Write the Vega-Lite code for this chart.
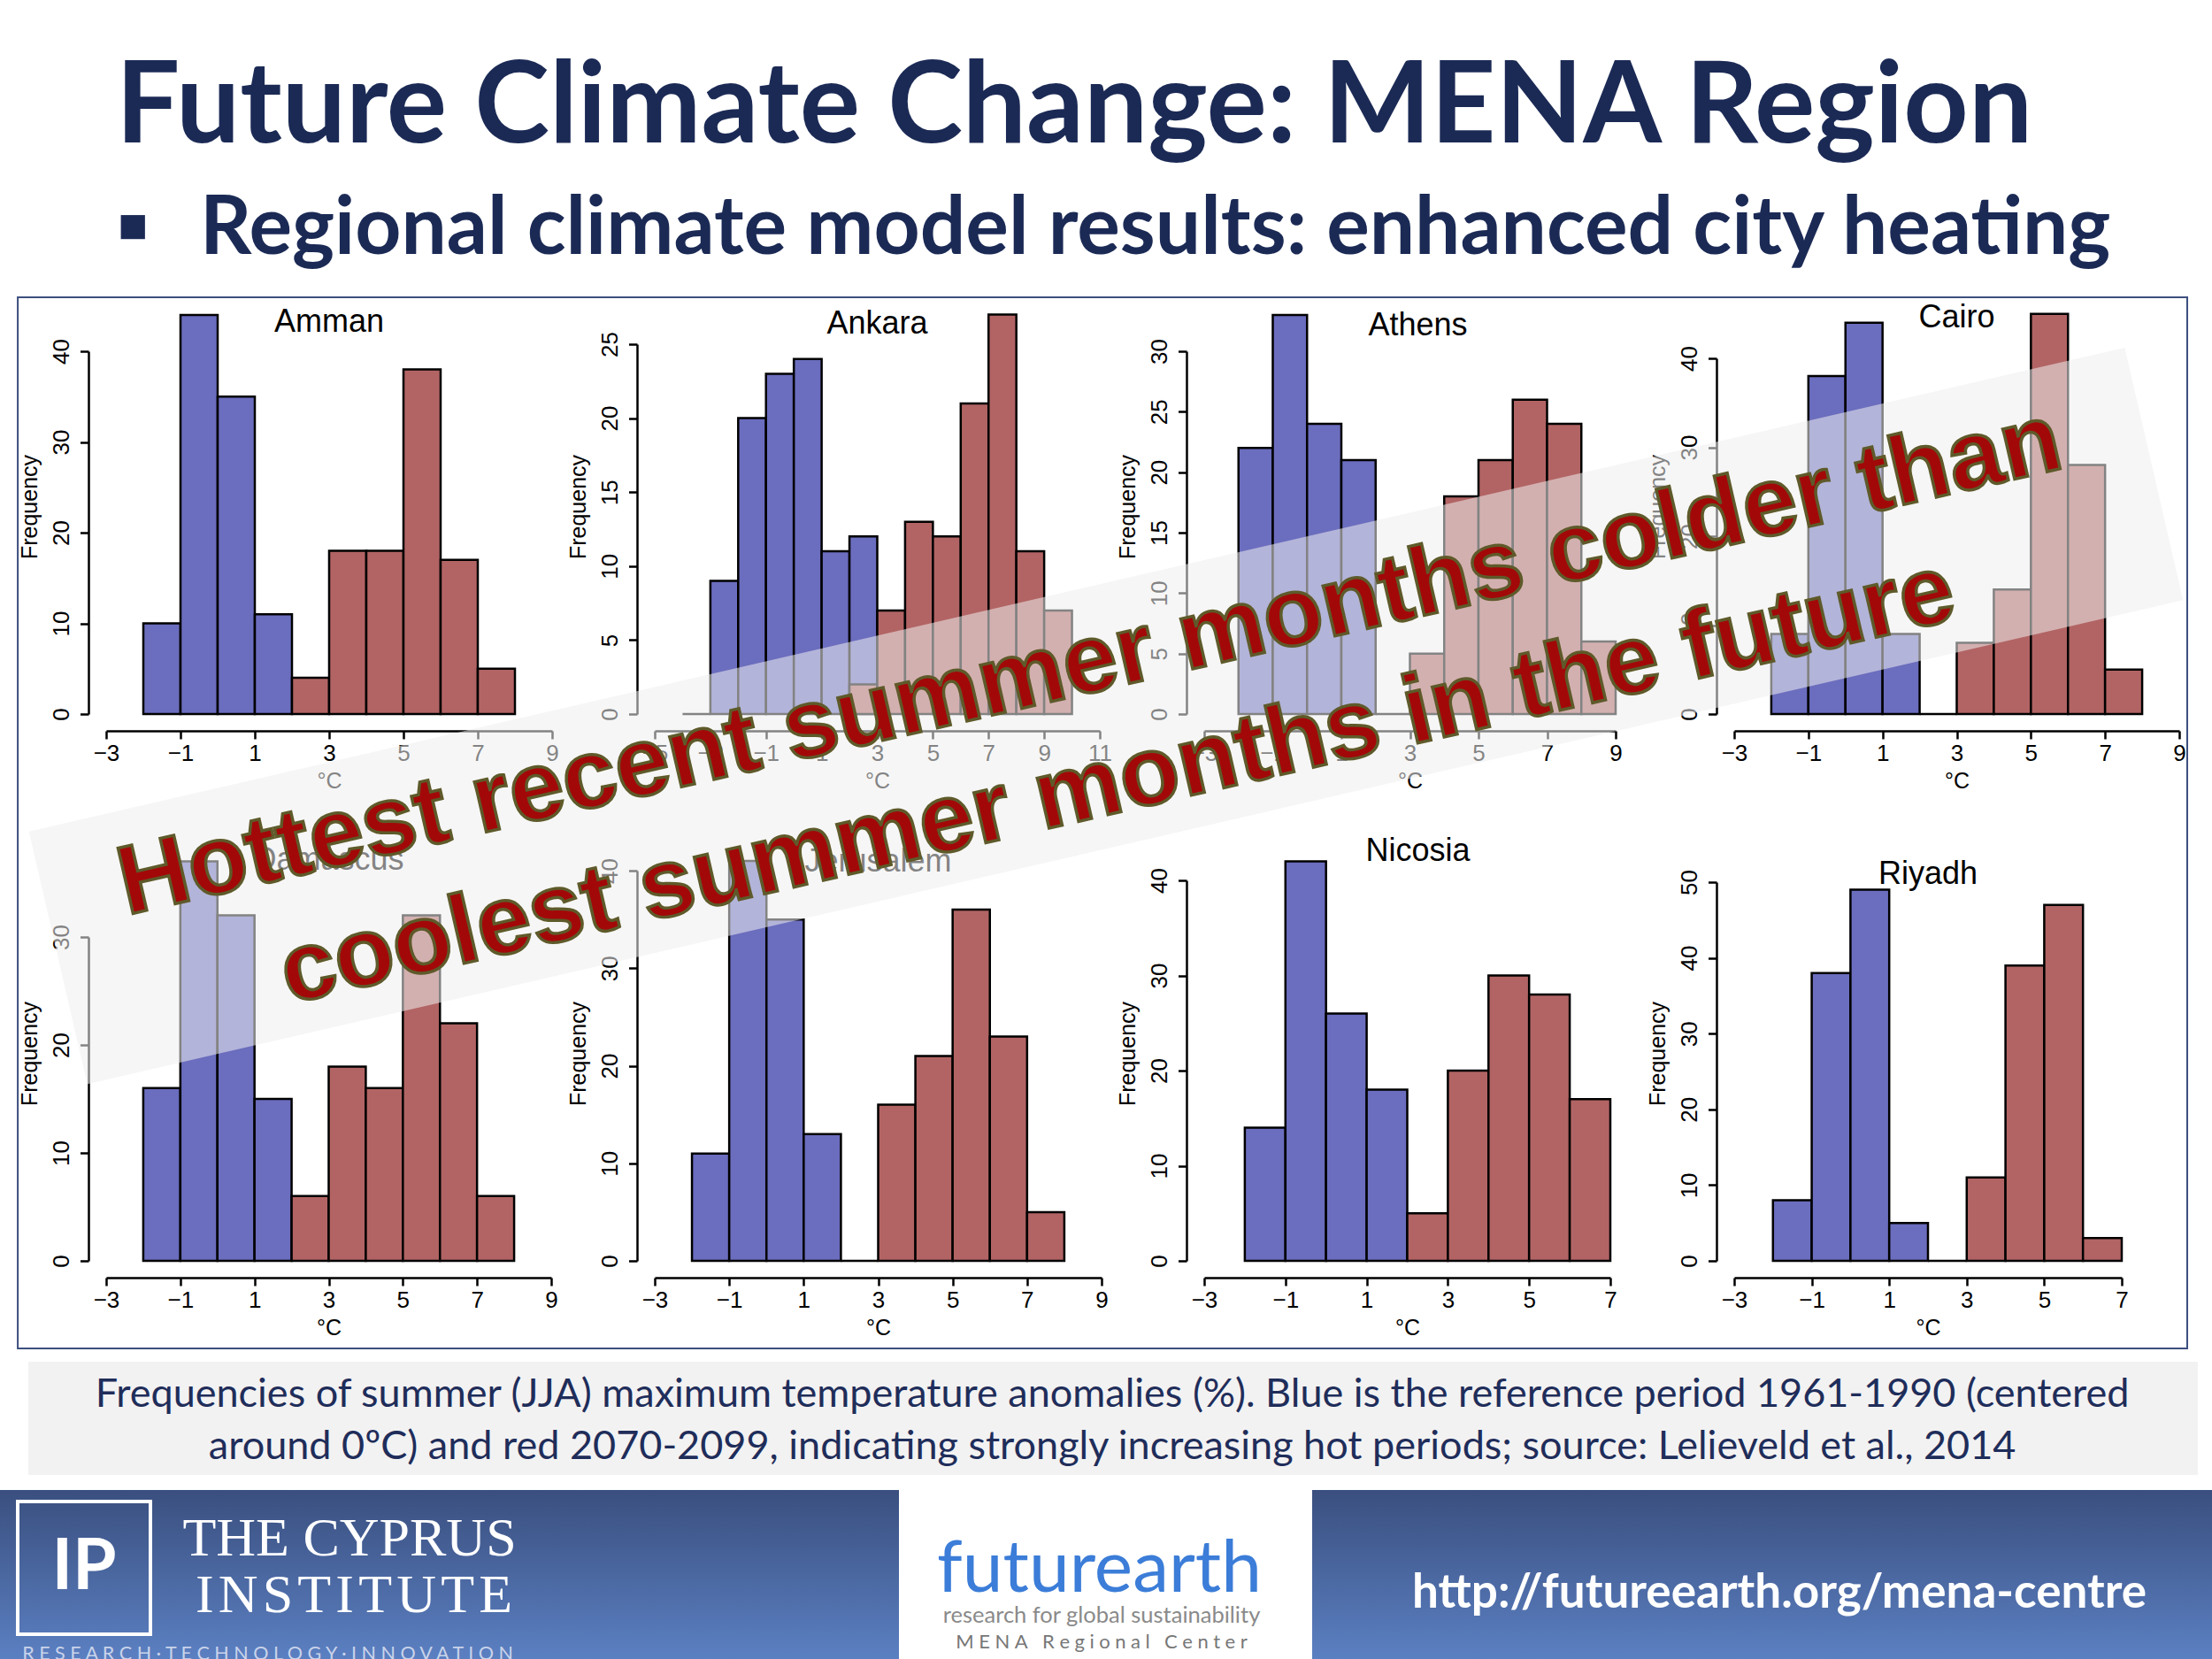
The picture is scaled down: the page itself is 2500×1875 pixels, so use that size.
{
  "$schema": "https://vega.github.io/schema/vega-lite/v6.json",
  "background": "white",
  "padding": {"top": 58, "left": 0, "right": 0, "bottom": 0},
  "title": {
    "text": "Future Climate Change: MENA Region",
    "subtitle": "▪\u2002\u2009Regional climate model results: enhanced city heating",
    "anchor": "start", "frame": "bounds", "baseline": "top", "dx": 131, "offset": 29,
    "font": "Lato", "fontSize": 128, "fontWeight": "bold", "color": "#1b2a55",
    "subtitleFont": "Lato", "subtitleFontSize": 91, "subtitleFontWeight": "bold", "subtitleColor": "#1b2a55", "subtitlePadding": 27
  },
  "config": {
    "view": {"stroke": null},
    "font": "Liberation Sans",
    "axis": {"grid": false, "domainColor": "black", "domainWidth": 2.5, "tickColor": "black", "tickWidth": 2.5, "labelColor": "black", "titleColor": "black", "labelFont": "Liberation Sans", "titleFont": "Liberation Sans", "labelFontSize": 26, "titleFontSize": 25, "titleFontWeight": "normal", "labelFlush": false, "labelOverlap": false, "labelBound": false},
    "axisX": {"offset": 19, "tickSize": 9, "labelPadding": 3, "titlePadding": 6, "labelAngle": 0},
    "axisY": {"offset": 20, "tickSize": 9.5, "labelAngle": -90, "labelAlign": "center", "labelBaseline": "alphabetic", "labelPadding": 13, "titleAngle": -90, "titleBaseline": "bottom", "titleLineHeight": 21, "titlePadding": 10, "titleY": 234.5}
  },
  "data": {"values": [
    {"city": "Amman", "period": "1961-1990", "bin_start": -2, "bin_end": -1, "count": 10},
    {"city": "Amman", "period": "1961-1990", "bin_start": -1, "bin_end": 0, "count": 44},
    {"city": "Amman", "period": "1961-1990", "bin_start": 0, "bin_end": 1, "count": 35},
    {"city": "Amman", "period": "1961-1990", "bin_start": 1, "bin_end": 2, "count": 11},
    {"city": "Amman", "period": "2070-2099", "bin_start": 2, "bin_end": 3, "count": 4},
    {"city": "Amman", "period": "2070-2099", "bin_start": 3, "bin_end": 4, "count": 18},
    {"city": "Amman", "period": "2070-2099", "bin_start": 4, "bin_end": 5, "count": 18},
    {"city": "Amman", "period": "2070-2099", "bin_start": 5, "bin_end": 6, "count": 38},
    {"city": "Amman", "period": "2070-2099", "bin_start": 6, "bin_end": 7, "count": 17},
    {"city": "Amman", "period": "2070-2099", "bin_start": 7, "bin_end": 8, "count": 5},
    {"city": "Ankara", "period": "1961-1990", "bin_start": -4, "bin_end": -3, "count": 0},
    {"city": "Ankara", "period": "1961-1990", "bin_start": -3, "bin_end": -2, "count": 9},
    {"city": "Ankara", "period": "1961-1990", "bin_start": -2, "bin_end": -1, "count": 20},
    {"city": "Ankara", "period": "1961-1990", "bin_start": -1, "bin_end": 0, "count": 23},
    {"city": "Ankara", "period": "1961-1990", "bin_start": 0, "bin_end": 1, "count": 24},
    {"city": "Ankara", "period": "1961-1990", "bin_start": 1, "bin_end": 2, "count": 11},
    {"city": "Ankara", "period": "1961-1990", "bin_start": 2, "bin_end": 3, "count": 12},
    {"city": "Ankara", "period": "2070-2099", "bin_start": 2, "bin_end": 3, "count": 2},
    {"city": "Ankara", "period": "2070-2099", "bin_start": 3, "bin_end": 4, "count": 7},
    {"city": "Ankara", "period": "2070-2099", "bin_start": 4, "bin_end": 5, "count": 13},
    {"city": "Ankara", "period": "2070-2099", "bin_start": 5, "bin_end": 6, "count": 12},
    {"city": "Ankara", "period": "2070-2099", "bin_start": 6, "bin_end": 7, "count": 21},
    {"city": "Ankara", "period": "2070-2099", "bin_start": 7, "bin_end": 8, "count": 27},
    {"city": "Ankara", "period": "2070-2099", "bin_start": 8, "bin_end": 9, "count": 11},
    {"city": "Ankara", "period": "2070-2099", "bin_start": 9, "bin_end": 10, "count": 7},
    {"city": "Athens", "period": "1961-1990", "bin_start": -2, "bin_end": -1, "count": 22},
    {"city": "Athens", "period": "1961-1990", "bin_start": -1, "bin_end": 0, "count": 33},
    {"city": "Athens", "period": "1961-1990", "bin_start": 0, "bin_end": 1, "count": 24},
    {"city": "Athens", "period": "1961-1990", "bin_start": 1, "bin_end": 2, "count": 21},
    {"city": "Athens", "period": "2070-2099", "bin_start": 2, "bin_end": 3, "count": 0},
    {"city": "Athens", "period": "2070-2099", "bin_start": 3, "bin_end": 4, "count": 5},
    {"city": "Athens", "period": "2070-2099", "bin_start": 4, "bin_end": 5, "count": 18},
    {"city": "Athens", "period": "2070-2099", "bin_start": 5, "bin_end": 6, "count": 21},
    {"city": "Athens", "period": "2070-2099", "bin_start": 6, "bin_end": 7, "count": 26},
    {"city": "Athens", "period": "2070-2099", "bin_start": 7, "bin_end": 8, "count": 24},
    {"city": "Athens", "period": "2070-2099", "bin_start": 8, "bin_end": 9, "count": 6},
    {"city": "Cairo", "period": "1961-1990", "bin_start": -2, "bin_end": -1, "count": 9},
    {"city": "Cairo", "period": "1961-1990", "bin_start": -1, "bin_end": 0, "count": 38},
    {"city": "Cairo", "period": "1961-1990", "bin_start": 0, "bin_end": 1, "count": 44},
    {"city": "Cairo", "period": "1961-1990", "bin_start": 1, "bin_end": 2, "count": 9},
    {"city": "Cairo", "period": "2070-2099", "bin_start": 2, "bin_end": 3, "count": 0},
    {"city": "Cairo", "period": "2070-2099", "bin_start": 3, "bin_end": 4, "count": 8},
    {"city": "Cairo", "period": "2070-2099", "bin_start": 4, "bin_end": 5, "count": 14},
    {"city": "Cairo", "period": "2070-2099", "bin_start": 5, "bin_end": 6, "count": 45},
    {"city": "Cairo", "period": "2070-2099", "bin_start": 6, "bin_end": 7, "count": 28},
    {"city": "Cairo", "period": "2070-2099", "bin_start": 7, "bin_end": 8, "count": 5},
    {"city": "Damascus", "period": "1961-1990", "bin_start": -2, "bin_end": -1, "count": 16},
    {"city": "Damascus", "period": "1961-1990", "bin_start": -1, "bin_end": 0, "count": 37},
    {"city": "Damascus", "period": "1961-1990", "bin_start": 0, "bin_end": 1, "count": 32},
    {"city": "Damascus", "period": "1961-1990", "bin_start": 1, "bin_end": 2, "count": 15},
    {"city": "Damascus", "period": "2070-2099", "bin_start": 2, "bin_end": 3, "count": 6},
    {"city": "Damascus", "period": "2070-2099", "bin_start": 3, "bin_end": 4, "count": 18},
    {"city": "Damascus", "period": "2070-2099", "bin_start": 4, "bin_end": 5, "count": 16},
    {"city": "Damascus", "period": "2070-2099", "bin_start": 5, "bin_end": 6, "count": 32},
    {"city": "Damascus", "period": "2070-2099", "bin_start": 6, "bin_end": 7, "count": 22},
    {"city": "Damascus", "period": "2070-2099", "bin_start": 7, "bin_end": 8, "count": 6},
    {"city": "Jerusalem", "period": "1961-1990", "bin_start": -2, "bin_end": -1, "count": 11},
    {"city": "Jerusalem", "period": "1961-1990", "bin_start": -1, "bin_end": 0, "count": 41},
    {"city": "Jerusalem", "period": "1961-1990", "bin_start": 0, "bin_end": 1, "count": 35},
    {"city": "Jerusalem", "period": "1961-1990", "bin_start": 1, "bin_end": 2, "count": 13},
    {"city": "Jerusalem", "period": "2070-2099", "bin_start": 2, "bin_end": 3, "count": 0},
    {"city": "Jerusalem", "period": "2070-2099", "bin_start": 3, "bin_end": 4, "count": 16},
    {"city": "Jerusalem", "period": "2070-2099", "bin_start": 4, "bin_end": 5, "count": 21},
    {"city": "Jerusalem", "period": "2070-2099", "bin_start": 5, "bin_end": 6, "count": 36},
    {"city": "Jerusalem", "period": "2070-2099", "bin_start": 6, "bin_end": 7, "count": 23},
    {"city": "Jerusalem", "period": "2070-2099", "bin_start": 7, "bin_end": 8, "count": 5},
    {"city": "Nicosia", "period": "1961-1990", "bin_start": -2, "bin_end": -1, "count": 14},
    {"city": "Nicosia", "period": "1961-1990", "bin_start": -1, "bin_end": 0, "count": 42},
    {"city": "Nicosia", "period": "1961-1990", "bin_start": 0, "bin_end": 1, "count": 26},
    {"city": "Nicosia", "period": "1961-1990", "bin_start": 1, "bin_end": 2, "count": 18},
    {"city": "Nicosia", "period": "2070-2099", "bin_start": 2, "bin_end": 3, "count": 5},
    {"city": "Nicosia", "period": "2070-2099", "bin_start": 3, "bin_end": 4, "count": 20},
    {"city": "Nicosia", "period": "2070-2099", "bin_start": 4, "bin_end": 5, "count": 30},
    {"city": "Nicosia", "period": "2070-2099", "bin_start": 5, "bin_end": 6, "count": 28},
    {"city": "Nicosia", "period": "2070-2099", "bin_start": 6, "bin_end": 7, "count": 17},
    {"city": "Riyadh", "period": "1961-1990", "bin_start": -2, "bin_end": -1, "count": 8},
    {"city": "Riyadh", "period": "1961-1990", "bin_start": -1, "bin_end": 0, "count": 38},
    {"city": "Riyadh", "period": "1961-1990", "bin_start": 0, "bin_end": 1, "count": 49},
    {"city": "Riyadh", "period": "1961-1990", "bin_start": 1, "bin_end": 2, "count": 5},
    {"city": "Riyadh", "period": "2070-2099", "bin_start": 2, "bin_end": 3, "count": 0},
    {"city": "Riyadh", "period": "2070-2099", "bin_start": 3, "bin_end": 4, "count": 11},
    {"city": "Riyadh", "period": "2070-2099", "bin_start": 4, "bin_end": 5, "count": 39},
    {"city": "Riyadh", "period": "2070-2099", "bin_start": 5, "bin_end": 6, "count": 47},
    {"city": "Riyadh", "period": "2070-2099", "bin_start": 6, "bin_end": 7, "count": 3}
  ]},
  "spacing": 13,
  "center": true,
  "vconcat": [
    {
      "columns": 4, "bounds": "flush", "align": "each", "spacing": {"row": 149, "column": 116},
      "concat": [
        {
          "width": 504, "height": 469,
          "title": {"text": "Amman", "offset": -73, "baseline": "alphabetic", "frame": "group", "anchor": "middle", "font": "Liberation Sans", "fontSize": 36, "fontWeight": "normal", "color": "black"},
          "transform": [{"filter": "datum.city === 'Amman'"}],
          "mark": {"type": "rect", "stroke": "black", "strokeWidth": 2.5},
          "encoding": {
            "x": {"field": "bin_start", "type": "quantitative", "scale": {"domain": [-3, 9], "nice": false, "zero": false}, "axis": {"values": [-3, -1, 1, 3, 5, 7, 9], "title": "°C"}},
            "x2": {"field": "bin_end"},
            "y": {"field": "count", "type": "quantitative", "scale": {"domain": [0, 40], "range": [469, 59], "nice": false}, "axis": {"values": [0, 10, 20, 30, 40], "title": ["", "Frequency"]}},
            "y2": {"datum": 0},
            "color": {"field": "period", "type": "nominal", "scale": {"domain": ["1961-1990", "2070-2099"], "range": ["#6b6dbe", "#b26464"]}, "legend": null}
          }
        },
        {
          "width": 503, "height": 469,
          "title": {"text": "Ankara", "offset": -75, "baseline": "alphabetic", "frame": "group", "anchor": "middle", "font": "Liberation Sans", "fontSize": 36, "fontWeight": "normal", "color": "black"},
          "transform": [{"filter": "datum.city === 'Ankara'"}],
          "mark": {"type": "rect", "stroke": "black", "strokeWidth": 2.5},
          "encoding": {
            "x": {"field": "bin_start", "type": "quantitative", "scale": {"domain": [-5, 11], "nice": false, "zero": false}, "axis": {"values": [-5, -3, -1, 1, 3, 5, 7, 9, 11], "title": "°C"}},
            "x2": {"field": "bin_end"},
            "y": {"field": "count", "type": "quantitative", "scale": {"domain": [0, 25], "range": [469, 51], "nice": false}, "axis": {"values": [0, 5, 10, 15, 20, 25], "title": ["", "Frequency"]}},
            "y2": {"datum": 0},
            "color": {"field": "period", "type": "nominal", "scale": {"domain": ["1961-1990", "2070-2099"], "range": ["#6b6dbe", "#b26464"]}, "legend": null}
          }
        },
        {
          "width": 483, "height": 469,
          "title": {"text": "Athens", "offset": -77, "baseline": "alphabetic", "frame": "group", "anchor": "middle", "font": "Liberation Sans", "fontSize": 36, "fontWeight": "normal", "color": "black"},
          "transform": [{"filter": "datum.city === 'Athens'"}],
          "mark": {"type": "rect", "stroke": "black", "strokeWidth": 2.5},
          "encoding": {
            "x": {"field": "bin_start", "type": "quantitative", "scale": {"domain": [-3, 9], "range": [0, 465], "nice": false, "zero": false}, "axis": {"values": [-3, -1, 1, 3, 5, 7, 9], "title": "°C"}},
            "x2": {"field": "bin_end"},
            "y": {"field": "count", "type": "quantitative", "scale": {"domain": [0, 30], "range": [469, 59], "nice": false}, "axis": {"values": [0, 5, 10, 15, 20, 25, 30], "title": ["", "Frequency"]}},
            "y2": {"datum": 0},
            "color": {"field": "period", "type": "nominal", "scale": {"domain": ["1961-1990", "2070-2099"], "range": ["#6b6dbe", "#b26464"]}, "legend": null}
          }
        },
        {
          "width": 503, "height": 469,
          "title": {"text": "Cairo", "offset": -68, "baseline": "alphabetic", "frame": "group", "anchor": "middle", "font": "Liberation Sans", "fontSize": 36, "fontWeight": "normal", "color": "black"},
          "transform": [{"filter": "datum.city === 'Cairo'"}],
          "mark": {"type": "rect", "stroke": "black", "strokeWidth": 2.5},
          "encoding": {
            "x": {"field": "bin_start", "type": "quantitative", "scale": {"domain": [-3, 9], "nice": false, "zero": false}, "axis": {"values": [-3, -1, 1, 3, 5, 7, 9], "title": "°C"}},
            "x2": {"field": "bin_end"},
            "y": {"field": "count", "type": "quantitative", "scale": {"domain": [0, 40], "range": [469, 67], "nice": false}, "axis": {"values": [0, 10, 20, 30, 40], "title": ["", "Frequency"]}},
            "y2": {"datum": 0},
            "color": {"field": "period", "type": "nominal", "scale": {"domain": ["1961-1990", "2070-2099"], "range": ["#6b6dbe", "#b26464"]}, "legend": null}
          }
        },
        {
          "width": 503, "height": 469,
          "title": {"text": "Damascus", "offset": -63, "baseline": "alphabetic", "frame": "group", "anchor": "middle", "font": "Liberation Sans", "fontSize": 36, "fontWeight": "normal", "color": "black"},
          "transform": [{"filter": "datum.city === 'Damascus'"}],
          "mark": {"type": "rect", "stroke": "black", "strokeWidth": 2.5},
          "encoding": {
            "x": {"field": "bin_start", "type": "quantitative", "scale": {"domain": [-3, 9], "nice": false, "zero": false}, "axis": {"values": [-3, -1, 1, 3, 5, 7, 9], "title": "°C"}},
            "x2": {"field": "bin_end"},
            "y": {"field": "count", "type": "quantitative", "scale": {"domain": [0, 30], "range": [469, 103], "nice": false}, "axis": {"values": [0, 10, 20, 30], "title": ["", "Frequency"]}},
            "y2": {"datum": 0},
            "color": {"field": "period", "type": "nominal", "scale": {"domain": ["1961-1990", "2070-2099"], "range": ["#6b6dbe", "#b26464"]}, "legend": null}
          }
        },
        {
          "width": 505, "height": 469,
          "title": {"text": "Jerusalem", "offset": -65, "baseline": "alphabetic", "frame": "group", "anchor": "middle", "font": "Liberation Sans", "fontSize": 36, "fontWeight": "normal", "color": "black"},
          "transform": [{"filter": "datum.city === 'Jerusalem'"}],
          "mark": {"type": "rect", "stroke": "black", "strokeWidth": 2.5},
          "encoding": {
            "x": {"field": "bin_start", "type": "quantitative", "scale": {"domain": [-3, 9], "nice": false, "zero": false}, "axis": {"values": [-3, -1, 1, 3, 5, 7, 9], "title": "°C"}},
            "x2": {"field": "bin_end"},
            "y": {"field": "count", "type": "quantitative", "scale": {"domain": [0, 40], "range": [469, 28], "nice": false}, "axis": {"values": [0, 10, 20, 30, 40], "title": ["", "Frequency"]}},
            "y2": {"datum": 0},
            "color": {"field": "period", "type": "nominal", "scale": {"domain": ["1961-1990", "2070-2099"], "range": ["#6b6dbe", "#b26464"]}, "legend": null}
          }
        },
        {
          "width": 483, "height": 469,
          "title": {"text": "Nicosia", "offset": -53, "baseline": "alphabetic", "frame": "group", "anchor": "middle", "font": "Liberation Sans", "fontSize": 36, "fontWeight": "normal", "color": "black"},
          "transform": [{"filter": "datum.city === 'Nicosia'"}],
          "mark": {"type": "rect", "stroke": "black", "strokeWidth": 2.5},
          "encoding": {
            "x": {"field": "bin_start", "type": "quantitative", "scale": {"domain": [-3, 7], "range": [0, 459], "nice": false, "zero": false}, "axis": {"values": [-3, -1, 1, 3, 5, 7], "title": "°C"}},
            "x2": {"field": "bin_end"},
            "y": {"field": "count", "type": "quantitative", "scale": {"domain": [0, 40], "range": [469, 39], "nice": false}, "axis": {"values": [0, 10, 20, 30, 40], "title": ["", "Frequency"]}},
            "y2": {"datum": 0},
            "color": {"field": "period", "type": "nominal", "scale": {"domain": ["1961-1990", "2070-2099"], "range": ["#6b6dbe", "#b26464"]}, "legend": null}
          }
        },
        {
          "width": 438, "height": 469,
          "title": {"text": "Riyadh", "offset": -700, "baseline": "alphabetic", "frame": "group", "anchor": "middle", "font": "Liberation Sans", "fontSize": 36, "fontWeight": "normal", "color": "black"},
          "layer": [
            {
              "transform": [{"filter": "datum.city === 'Riyadh'"}],
              "mark": {"type": "rect", "stroke": "black", "strokeWidth": 2.5},
              "encoding": {
                "x": {"field": "bin_start", "type": "quantitative", "scale": {"domain": [-3, 7], "nice": false, "zero": false}, "axis": {"values": [-3, -1, 1, 3, 5, 7], "title": "°C"}},
                "x2": {"field": "bin_end"},
                "y": {"field": "count", "type": "quantitative", "scale": {"domain": [0, 50], "range": [469, 41], "nice": false}, "axis": {"values": [0, 10, 20, 30, 40, 50], "title": ["", "Frequency"]}},
                "y2": {"datum": 0},
                "color": {"field": "period", "type": "nominal", "scale": {"domain": ["1961-1990", "2070-2099"], "range": ["#6b6dbe", "#b26464"]}, "legend": null}
              }
            },
            {
              "data": {"values": [{"note": "panel frame"}]},
              "mark": {"type": "rect", "fill": "white", "fillOpacity": 0, "stroke": "#3d4f7f", "strokeWidth": 2},
              "encoding": {
                "x": {"datum": -47.29, "type": "quantitative"},
                "x2": {"datum": 8.69},
                "y": {"datum": 127.22, "type": "quantitative"},
                "y2": {"datum": -11.57}
              }
            },
            {
              "data": {"values": [{"note": "overlay band"}]},
              "mark": {"type": "point", "shape": "M-1,-0.1205L1,-0.1205L1,0.1205L-1,0.1205Z", "size": 5909761, "angle": -13, "filled": true, "color": "#eeeeee", "opacity": 0.55, "strokeWidth": 0},
              "encoding": {
                "x": {"datum": -19.21, "type": "quantitative"},
                "y": {"datum": 71.96, "type": "quantitative"}
              }
            },
            {
              "data": {"values": [{"msg": "Hottest recent summer months colder than\ncoolest summer months in the future"}]},
              "mark": {"type": "text", "angle": -13, "font": "Liberation Sans", "fontWeight": "bold", "fontSize": 110, "color": "#a30808", "stroke": "#5e5a2a", "strokeWidth": 3.5, "align": "center", "baseline": "alphabetic", "lineBreak": "\n", "lineHeight": 139},
              "encoding": {
                "text": {"field": "msg", "type": "nominal"},
                "x": {"datum": -19.46, "type": "quantitative"},
                "y": {"datum": 75.23, "type": "quantitative"}
              }
            }
          ]
        }
      ]
    },
    {
      "spacing": 17,
      "vconcat": [
        {
          "width": 2593, "height": 128,
          "layer": [
            {
              "data": {"values": [{"box": "caption"}]},
              "mark": {"type": "rect", "color": "#f2f2f2", "strokeWidth": 0},
              "encoding": {
                "x": {"datum": 1.234, "type": "quantitative", "scale": {"domain": [0, 100], "nice": false, "zero": false}, "axis": null},
                "x2": {"datum": 95.80},
                "y": {"datum": 0, "type": "quantitative", "scale": {"domain": [0, 100], "reverse": true, "nice": false, "zero": false}, "axis": null},
                "y2": {"datum": 100}
              }
            },
            {
              "data": {"values": [{"text": "Frequencies of summer (JJA) maximum temperature anomalies (%). Blue is the reference period 1961-1990 (centered"}]},
              "mark": {"type": "text", "font": "Lato", "fontSize": 45, "color": "#1f2d5a", "baseline": "middle", "align": "center"},
              "encoding": {
                "text": {"field": "text", "type": "nominal"},
                "x": {"datum": 48.48, "type": "quantitative", "axis": null},
                "y": {"datum": 28.9, "type": "quantitative", "axis": null}
              }
            },
            {
              "data": {"values": [{"text": "around 0ºC) and red 2070-2099, indicating strongly increasing hot periods; source: Lelieveld et al., 2014"}]},
              "mark": {"type": "text", "font": "Lato", "fontSize": 45, "color": "#1f2d5a", "baseline": "middle", "align": "center"},
              "encoding": {
                "text": {"field": "text", "type": "nominal"},
                "x": {"datum": 48.48, "type": "quantitative", "axis": null},
                "y": {"datum": 75, "type": "quantitative", "axis": null}
              }
            }
          ]
        },
        {
          "width": 2500, "height": 192,
          "view": {"stroke": null, "fill": {"gradient": "linear", "x1": 0, "y1": 0, "x2": 0, "y2": 1, "stops": [{"offset": 0, "color": "#3a4f7f"}, {"offset": 1, "color": "#5b80c2"}]}},
          "layer": [
            {
              "data": {"values": [{"block": "futurearth"}]},
              "mark": {"type": "rect", "color": "white", "strokeWidth": 0},
              "encoding": {
                "x": {"datum": 40.64, "type": "quantitative", "scale": {"domain": [0, 100], "nice": false, "zero": false}, "axis": null},
                "x2": {"datum": 59.32},
                "y": {"datum": 0, "type": "quantitative", "scale": {"domain": [0, 100], "reverse": true, "nice": false, "zero": false}, "axis": null},
                "y2": {"datum": 100}
              }
            },
            {
              "data": {"values": [{"block": "logo"}]},
              "mark": {"type": "point", "shape": "square", "size": 22500, "filled": false, "stroke": "white", "strokeWidth": 4, "opacity": 1},
              "encoding": {
                "x": {"datum": 3.8, "type": "quantitative", "axis": null},
                "y": {"datum": 45.8, "type": "quantitative", "axis": null}
              }
            },
            {
              "data": {"values": [{"t": "IP"}]},
              "mark": {"type": "text", "font": "Lato", "fontWeight": "bold", "fontSize": 80, "color": "white", "baseline": "middle", "align": "center"},
              "encoding": {
                "text": {"field": "t", "type": "nominal"},
                "x": {"datum": 3.8, "type": "quantitative", "axis": null},
                "y": {"datum": 45.8, "type": "quantitative", "axis": null}
              }
            },
            {
              "data": {"values": [{"t": "THE CYPRUS"}]},
              "mark": {"type": "text", "font": "Liberation Serif", "fontSize": 62, "color": "white", "baseline": "middle", "align": "center"},
              "encoding": {
                "text": {"field": "t", "type": "nominal"},
                "x": {"datum": 15.8, "type": "quantitative", "axis": null},
                "y": {"datum": 28.6, "type": "quantitative", "axis": null}
              }
            },
            {
              "data": {"values": [{"t": "I\u200aN\u200aS\u200aT\u200aI\u200aT\u200aU\u200aT\u200aE"}]},
              "mark": {"type": "text", "font": "Liberation Serif", "fontSize": 62, "color": "white", "baseline": "middle", "align": "center"},
              "encoding": {
                "text": {"field": "t", "type": "nominal"},
                "x": {"datum": 16.0, "type": "quantitative", "axis": null},
                "y": {"datum": 62, "type": "quantitative", "axis": null}
              }
            },
            {
              "data": {"values": [{"t": "R E S E A R C H · T E C H N O L O G Y · I N N O V A T I O N"}]},
              "mark": {"type": "text", "font": "Lato", "fontSize": 21.5, "color": "#c9d3ea", "baseline": "middle", "align": "center"},
              "encoding": {
                "text": {"field": "t", "type": "nominal"},
                "x": {"datum": 12.1, "type": "quantitative", "axis": null},
                "y": {"datum": 97, "type": "quantitative", "axis": null}
              }
            },
            {
              "data": {"values": [{"t": "futurearth"}]},
              "mark": {"type": "text", "font": "Lato", "fontSize": 82, "color": "#3b7dd8", "baseline": "alphabetic", "align": "center"},
              "encoding": {
                "text": {"field": "t", "type": "nominal"},
                "x": {"datum": 49.7, "type": "quantitative", "axis": null},
                "y": {"datum": 59.9, "type": "quantitative", "axis": null}
              }
            },
            {
              "data": {"values": [{"t": "research for global sustainability"}]},
              "mark": {"type": "text", "font": "Lato", "fontSize": 25.5, "color": "#8a8a8a", "baseline": "middle", "align": "center"},
              "encoding": {
                "text": {"field": "t", "type": "nominal"},
                "x": {"datum": 49.8, "type": "quantitative", "axis": null},
                "y": {"datum": 74, "type": "quantitative", "axis": null}
              }
            },
            {
              "data": {"values": [{"t": "M\u2005E\u2005N\u2005A\u2002\u2005R\u2005e\u2005g\u2005i\u2005o\u2005n\u2005a\u2005l\u2002\u2005C\u2005e\u2005n\u2005t\u2005e\u2005r"}]},
              "mark": {"type": "text", "font": "Lato", "fontSize": 22, "color": "#777777", "baseline": "middle", "align": "center"},
              "encoding": {
                "text": {"field": "t", "type": "nominal"},
                "x": {"datum": 49.8, "type": "quantitative", "axis": null},
                "y": {"datum": 89.6, "type": "quantitative", "axis": null}
              }
            },
            {
              "data": {"values": [{"t": "http://futureearth.org/mena-centre"}]},
              "mark": {"type": "text", "font": "Lato", "fontWeight": "bold", "fontSize": 53, "color": "white", "baseline": "middle", "align": "center"},
              "encoding": {
                "text": {"field": "t", "type": "nominal"},
                "x": {"datum": 80.44, "type": "quantitative", "axis": null},
                "y": {"datum": 61, "type": "quantitative", "axis": null}
              }
            }
          ]
        }
      ]
    }
  ]
}
